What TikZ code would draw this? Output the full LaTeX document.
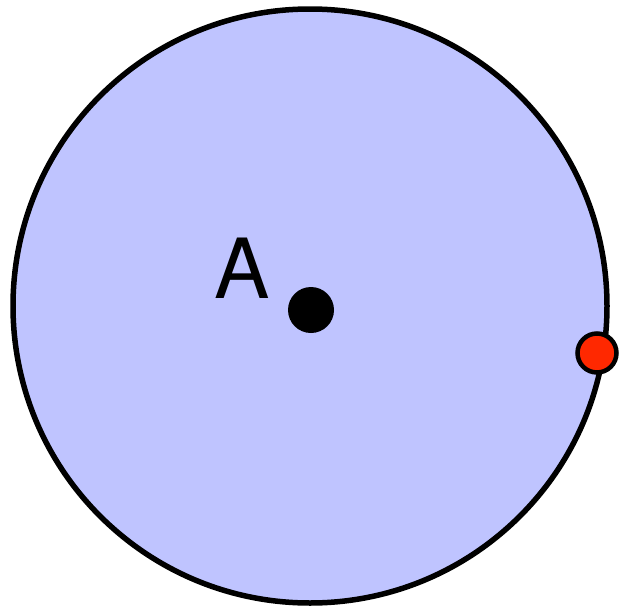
\documentclass[tikz,border=0pt]{standalone}
\usepackage{fontspec}
\setmainfont{TeX Gyre Heros}
\usepackage{tikz}
\usetikzlibrary{positioning}

\definecolor{diskblue}{RGB}{191,196,255}
\definecolor{pointred}{RGB}{255,40,0}

\begin{document}
\begin{tikzpicture}[
    x=1pt, y=-1pt,
    disk/.style={draw, circle, line width=5.5pt, fill=diskblue, minimum size=594pt, inner sep=0pt},
    centredot/.style={circle, fill=black, minimum size=46pt, inner sep=0pt},
    pointdot/.style={draw, circle, line width=4.5pt, fill=pointred, minimum size=39pt, inner sep=0pt},
    lbl/.style={font=\fontsize{83}{83}\selectfont, inner sep=0pt}
  ]
    \useasboundingbox (0,0) rectangle (619,608);

    % Disk and points
    \node[disk] (disk) at (310,306) {};
    \node[centredot] (centre) at (311,310) {};
    \node[pointdot] (point) at (597,353) {};

    % Label
    \node[lbl, anchor=base] (labelA) at (242,298) {A};

  \end{tikzpicture}
\end{document}
